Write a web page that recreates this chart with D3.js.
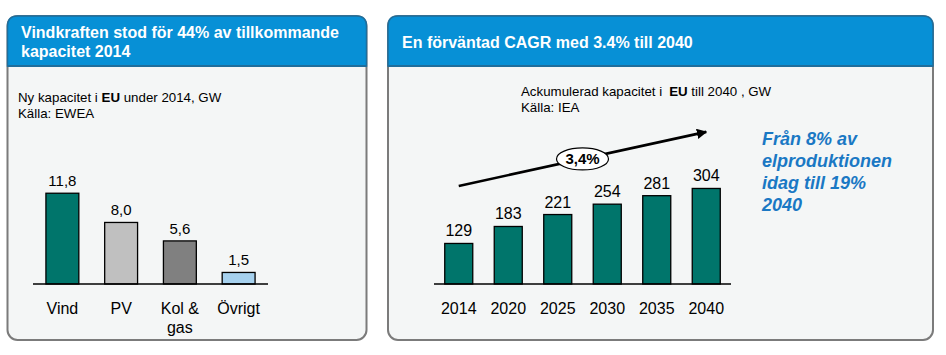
<!DOCTYPE html>
<html><head><meta charset="utf-8">
<script src="https://cdn.jsdelivr.net/npm/d3@7"></script>
<style>
html,body{margin:0;padding:0;background:#fff;}
svg{display:block;font-family:"Liberation Sans",Arial,sans-serif;}
</style></head>
<body><svg id="c" width="946" height="355"></svg>
<script>
// ---- data ----
const leftCategories = ["Vind", "PV", "Kol & gas", "Övrigt"];
const leftValues = [11.8, 8.0, 5.6, 1.5];
const leftLabels = ["11,8", "8,0", "5,6", "1,5"];
const leftColors = ["#00756b", "#c0c0c0", "#808080", "#a6d1ee"];

const rightYears = ["2014", "2020", "2025", "2030", "2035", "2040"];
const rightValues = [129, 183, 221, 254, 281, 304];
const cagrLabel = "3,4%";
const cagrArrow = [312, 484]; // arrow level in value units at 2014 and 2040

const svg = d3.select("#c");
const blue = "#0790d6", darkBlue = "#1f6e9c", bg = "#f4f6f6", border = "#7b7b7b";

function panel(x0, x1, y0, y1, hb, r) {
  svg.append("rect").attr("x", x0).attr("y", y0).attr("width", x1 - x0).attr("height", y1 - y0)
    .attr("rx", r).attr("ry", r).attr("fill", bg).attr("stroke", border).attr("stroke-width", 2);
  const p = `M${x0},${hb} L${x0},${y0 + r} Q${x0},${y0} ${x0 + r},${y0} L${x1 - r},${y0} Q${x1},${y0} ${x1},${y0 + r} L${x1},${hb} Z`;
  svg.append("path").attr("d", p).attr("fill", blue).attr("stroke", darkBlue).attr("stroke-width", 1.5);
  svg.append("line").attr("x1", x0).attr("x2", x1).attr("y1", hb).attr("y2", hb)
    .attr("stroke", darkBlue).attr("stroke-width", 2);
}
panel(7.5, 366.5, 16, 340, 66, 10);
panel(388, 933, 16, 340, 66, 10);

// titles
const t1 = svg.append("text").attr("fill", "#fff").attr("font-weight", "bold").attr("font-size", 16);
t1.append("tspan").attr("x", 21).attr("y", 38).text("Vindkraften stod för 44% av tillkommande");
t1.append("tspan").attr("x", 21).attr("y", 57).text("kapacitet 2014");
svg.append("text").attr("fill", "#fff").attr("font-weight", "bold").attr("font-size", 16)
  .attr("x", 402).attr("y", 48).text("En förväntad CAGR med 3.4% till 2040");

// subtitles
const s1 = svg.append("text").attr("font-size", 13.3).attr("fill", "#000");
const l1 = s1.append("tspan").attr("x", 18).attr("y", 102);
l1.append("tspan").text("Ny kapacitet i ");
l1.append("tspan").attr("font-weight", "bold").text("EU");
l1.append("tspan").text(" under 2014, GW");
s1.append("tspan").attr("x", 18).attr("y", 118).text("Källa: EWEA");

const s2 = svg.append("text").attr("font-size", 13.3).attr("fill", "#000");
const l2 = s2.append("tspan").attr("x", 521).attr("y", 96);
l2.append("tspan").text("Ackumulerad kapacitet i");
l2.append("tspan").attr("dx", 7).attr("font-weight", "bold").text("EU");
l2.append("tspan").text(" till 2040 , GW");
s2.append("tspan").attr("x", 521).attr("y", 112).text("Källa: IEA");

// ---- left chart ----
const base = 284;
const xL = d3.scaleBand().domain(leftCategories).range([33, 268]).paddingInner(0.44).paddingOuter(0.22);
const yL = d3.scaleLinear().domain([0, 13]).range([base, base - 100]);
svg.append("g").selectAll("rect").data(leftValues).join("rect")
  .attr("x", (d, i) => xL(leftCategories[i])).attr("width", xL.bandwidth())
  .attr("y", d => yL(d)).attr("height", d => yL(0) - yL(d))
  .attr("fill", (d, i) => leftColors[i]).attr("stroke", "#000").attr("stroke-width", 1.3);
svg.append("g").selectAll("text").data(leftValues).join("text")
  .attr("x", (d, i) => xL(leftCategories[i]) + xL.bandwidth() / 2).attr("y", d => yL(d) - 7)
  .attr("text-anchor", "middle").attr("font-size", 15).text((d, i) => leftLabels[i]);
svg.append("line").attr("x1", 33).attr("x2", 268).attr("y1", base).attr("y2", base)
  .attr("stroke", "#000").attr("stroke-width", 1.3);
const catG = svg.append("g").selectAll("text").data(leftCategories).join("text")
  .attr("text-anchor", "middle").attr("font-size", 16);
catG.each(function (d) {
  const parts = d === "Kol & gas" ? ["Kol &", "gas"] : [d];
  const cx = xL(d) + xL.bandwidth() / 2;
  parts.forEach((p, j) => d3.select(this).append("tspan").attr("x", cx).attr("y", 314 + j * 19).text(p));
});

// ---- right chart ----
const xR = d3.scaleBand().domain(rightYears).range([434, 731]).paddingInner(0.434).paddingOuter(0.217);
const yR = d3.scaleLinear().domain([0, 350]).range([base, base - 110]);
svg.append("g").selectAll("rect").data(rightValues).join("rect")
  .attr("x", (d, i) => xR(rightYears[i])).attr("width", xR.bandwidth())
  .attr("y", d => yR(d)).attr("height", d => yR(0) - yR(d))
  .attr("fill", "#00756b").attr("stroke", "#000").attr("stroke-width", 1.3);
svg.append("g").selectAll("text").data(rightValues).join("text")
  .attr("x", (d, i) => xR(rightYears[i]) + xR.bandwidth() / 2).attr("y", d => yR(d) - 7)
  .attr("text-anchor", "middle").attr("font-size", 16).text(d => d);
svg.append("line").attr("x1", 434).attr("x2", 731).attr("y1", base).attr("y2", base)
  .attr("stroke", "#000").attr("stroke-width", 1.3);
svg.append("g").selectAll("text").data(rightYears).join("text")
  .attr("x", d => xR(d) + xR.bandwidth() / 2).attr("y", 314)
  .attr("text-anchor", "middle").attr("font-size", 16).text(d => d);

// CAGR arrow
const ax0 = xR("2014") + xR.bandwidth() / 2, ay0 = yR(cagrArrow[0]);
const ax1 = xR("2040") + xR.bandwidth() / 2, ay1 = yR(cagrArrow[1]);
svg.append("defs").append("marker").attr("id", "ah").attr("viewBox", "0 0 10 10")
  .attr("refX", 9).attr("refY", 5).attr("markerWidth", 4).attr("markerHeight", 4)
  .attr("orient", "auto").append("path").attr("d", "M0,0 L10,5 L0,10 Z").attr("fill", "#000");
svg.append("line").attr("x1", ax0).attr("y1", ay0).attr("x2", ax1).attr("y2", ay1)
  .attr("stroke", "#000").attr("stroke-width", 2.6).attr("marker-end", "url(#ah)");
const mx = (ax0 + ax1) / 2, my = (ay0 + ay1) / 2;
svg.append("ellipse").attr("cx", mx).attr("cy", my).attr("rx", 26).attr("ry", 11)
  .attr("fill", "#fff").attr("stroke", "#000").attr("stroke-width", 1.2);
svg.append("text").attr("x", mx).attr("y", my + 5.5).attr("text-anchor", "middle")
  .attr("font-weight", "bold").attr("font-size", 15).text(cagrLabel);

// side note
const note = svg.append("text").attr("font-size", 18).attr("font-weight", "bold")
  .attr("font-style", "italic").attr("fill", "#1a78c4");
["Från 8% av", "elproduktionen", "idag till 19%", "2040"].forEach((s, i) =>
  note.append("tspan").attr("x", 762).attr("y", 145 + i * 22).text(s));
</script></body></html>
